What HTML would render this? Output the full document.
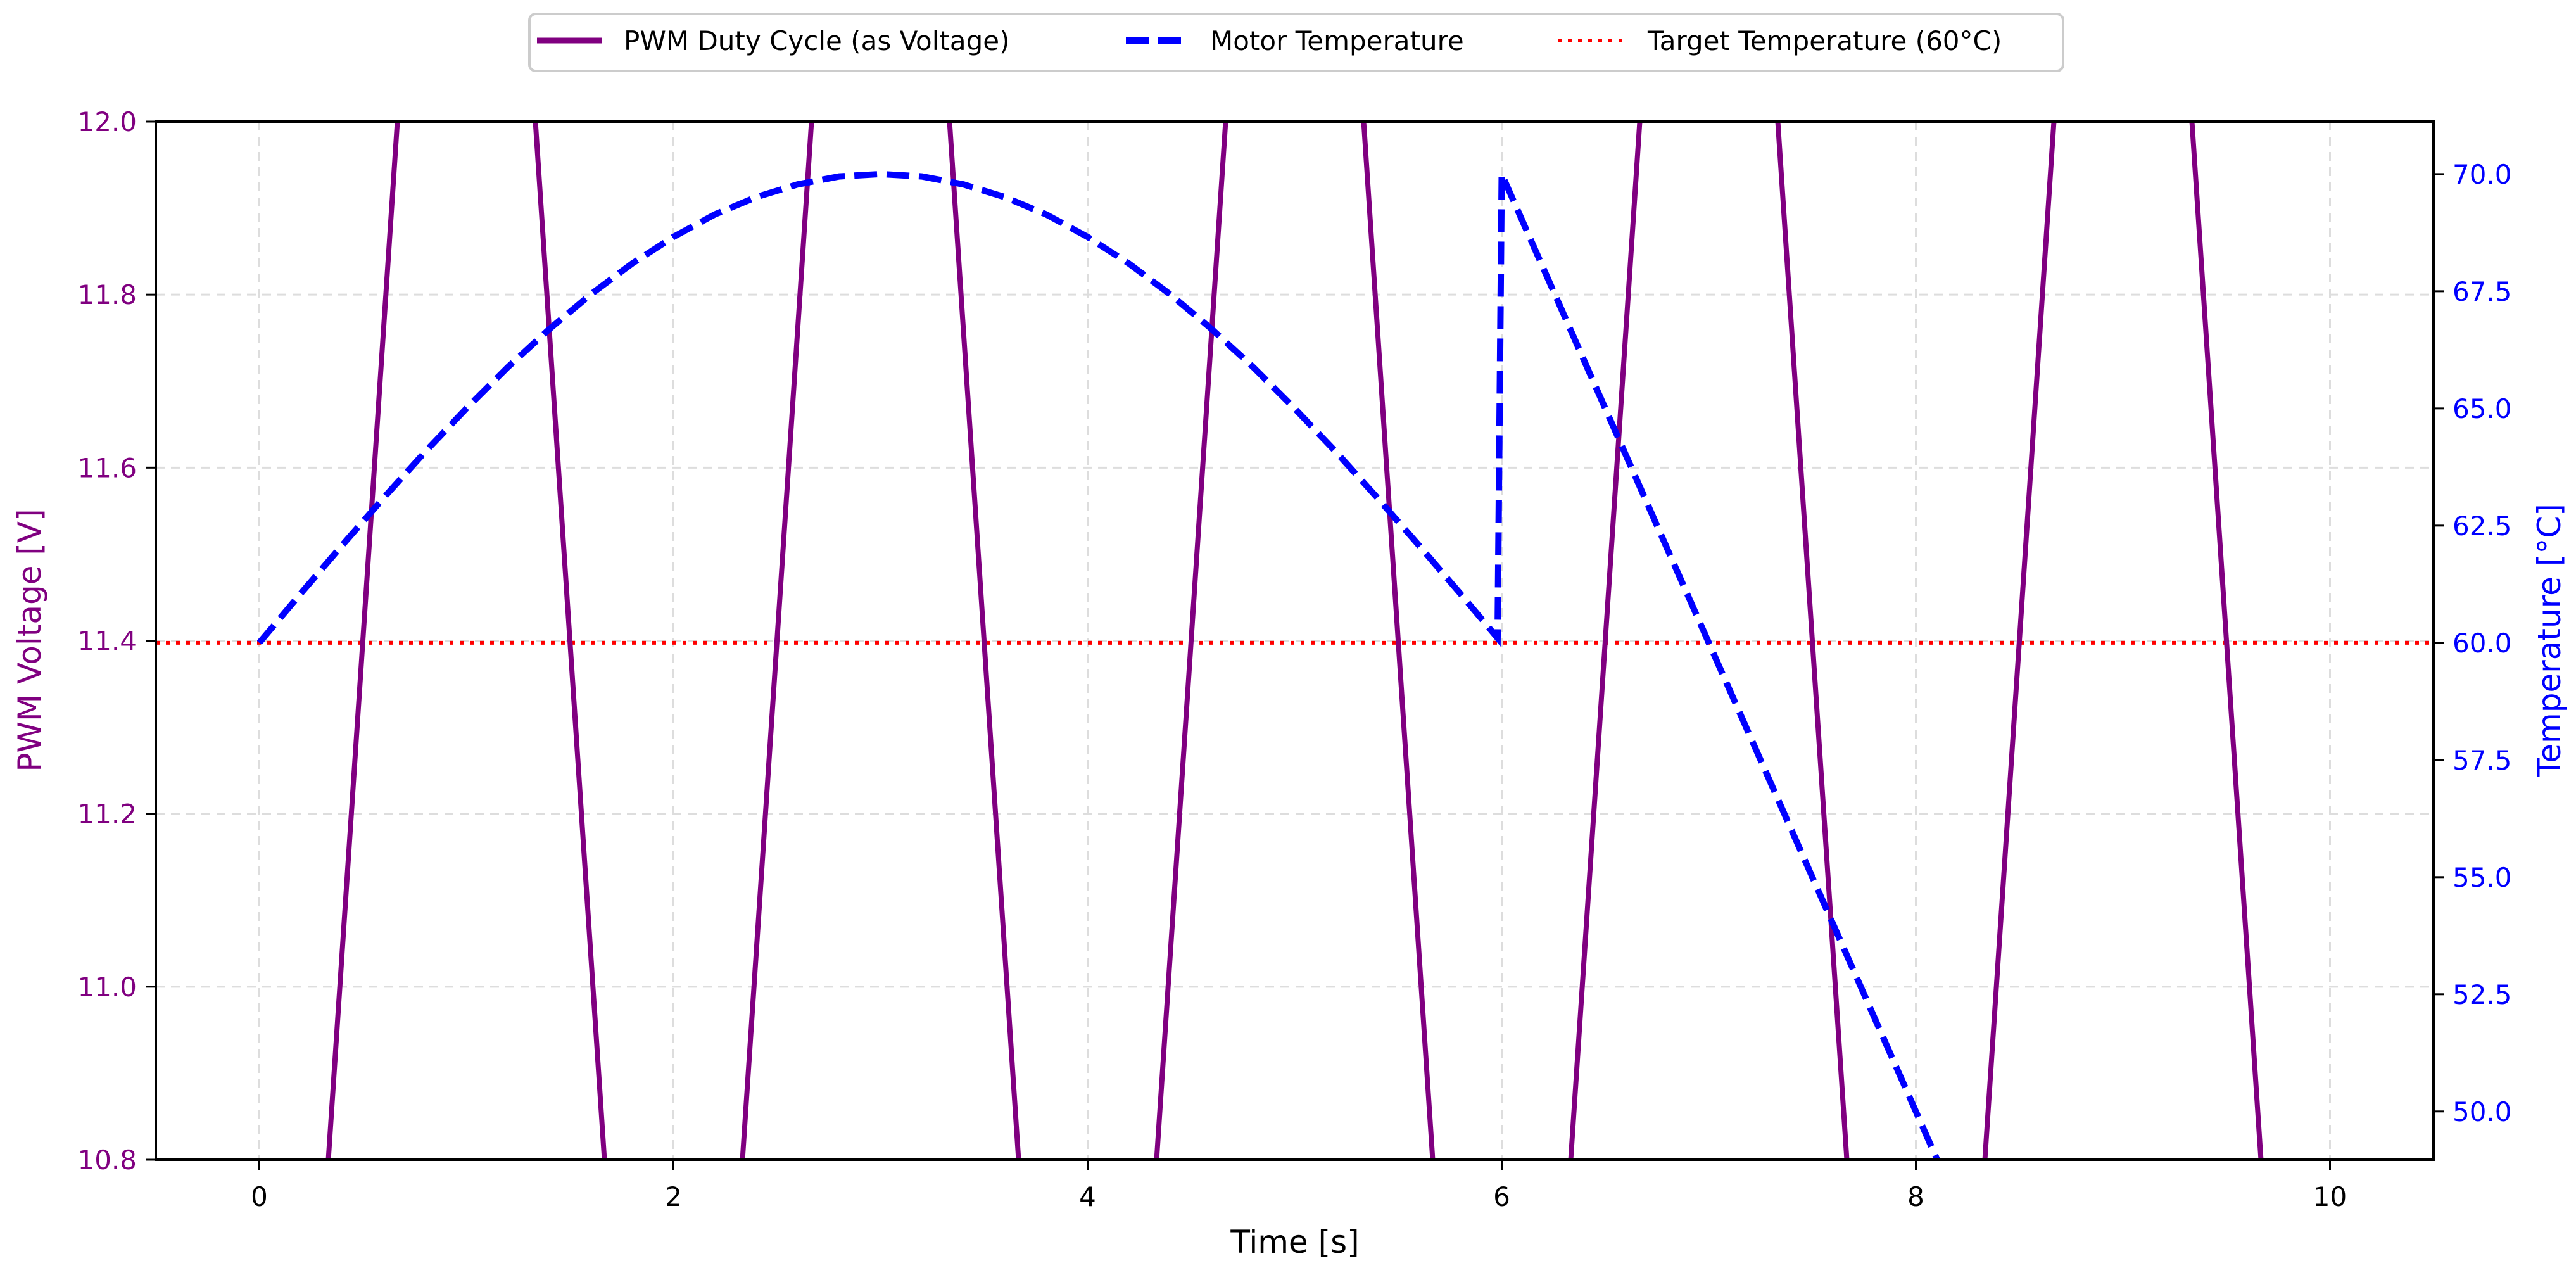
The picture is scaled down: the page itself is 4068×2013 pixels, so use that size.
<!DOCTYPE html>
<html><head><meta charset="utf-8">
<style>
html,body{margin:0;padding:0;background:#fff;width:4068px;height:2013px;overflow:hidden;}
svg{display:block;font-family:"DejaVu Sans","Liberation Sans",sans-serif;}
</style></head>
<body>
<svg id="chart" width="4068" height="2013" viewBox="0 0 4068 2013" xmlns="http://www.w3.org/2000/svg">
<defs><clipPath id="plotclip"><rect x="246" y="192" width="3597" height="1639"/></clipPath></defs>
<rect x="0" y="0" width="4068" height="2013" fill="#fff"/>
<g id="grid"></g>
<g id="series" clip-path="url(#plotclip)"></g>
<rect x="246" y="192" width="3597" height="1639" fill="none" stroke="#000" stroke-width="4"/>
<g id="axes"></g>
<text x="47" y="1011" transform="rotate(-90 47 1011)" text-anchor="middle" dominant-baseline="central" font-size="50" fill="#800080">PWM Voltage [V]</text>
<text x="4026" y="1011" transform="rotate(-90 4026 1011)" text-anchor="middle" dominant-baseline="central" font-size="50" fill="#0000ff">Temperature [°C]</text>
<text x="2045" y="1978" text-anchor="middle" font-size="50" fill="#000">Time [s]</text>
<g>
<rect x="836" y="22" width="2422" height="90" rx="10" fill="#fff" stroke="#ccc" stroke-width="4"/>
<g>
<line x1="848" y1="64" x2="950" y2="64" stroke="#800080" stroke-width="9"/>
<text x="985" y="79" font-size="42" fill="#000">PWM Duty Cycle (as Voltage)</text></g>
<g>
<line x1="1778" y1="64" x2="1866" y2="64" stroke="#0000ff" stroke-width="10" stroke-dasharray="36,15"/>
<text x="1911" y="79" font-size="42" fill="#000">Motor Temperature</text></g>
<g>
<line x1="2460" y1="64" x2="2562" y2="64" stroke="#ff0000" stroke-width="6" stroke-dasharray="6,10"/>
<text x="2602" y="79" font-size="42" fill="#000">Target Temperature (60°C)</text></g>
</g>
</svg>
<script>
const timePwm = [0,1,2,3,4,5,6,7,8,9,10];
const pwmVolts = [9.6,13.2,9.6,13.2,9.6,13.2,9.6,13.2,9.6,13.2,9.6];
const timeTemp = [0,0.2,0.4,0.6,0.8,1.0,1.2,1.4,1.6,1.8,2.0,2.2,2.4,2.6,2.8,3.0,3.2,3.4,3.6,3.8,4.0,4.2,4.4,4.6,4.8,5.0,5.2,5.4,5.6,5.8,5.98,6.0,7,8,9,10];
const tempC = [60,61.05,62.08,63.09,64.07,65,65.88,66.69,67.43,68.09,68.66,69.14,69.51,69.78,69.95,70,69.95,69.78,69.51,69.14,68.66,68.09,67.43,66.69,65.88,65,64.07,63.09,62.08,61.05,60.1,70,60,50,40,30];
const targetTemp = [60];
const xTicks = [0,2,4,6,8,10];
const leftTicks = ["10.8","11.0","11.2","11.4","11.6","11.8","12.0"];
const rightTicks = ["50.0","52.5","55.0","57.5","60.0","62.5","65.0","67.5","70.0"];

const L=246,R=3843,T=192,B=1831;
const xMin=-0.5,xMax=10.5, vMin=10.8,vMax=12.0, tMin=48.97,tMax=71.12;
const X=v=>L+(v-xMin)/(xMax-xMin)*(R-L);
const YV=v=>B-(v-vMin)/(vMax-vMin)*(B-T);
const YT=v=>B-(v-tMin)/(tMax-tMin)*(B-T);
const NS="http://www.w3.org/2000/svg";
function mk(tag,attrs,parent,txt){const e=document.createElementNS(NS,tag);for(const k in attrs)e.setAttribute(k,attrs[k]);if(txt!==undefined)e.textContent=txt;parent.appendChild(e);return e;}
const grid=document.getElementById('grid'),axes=document.getElementById('axes'),series=document.getElementById('series');

xTicks.forEach(t=>{
  const g=mk('line',{x1:X(t),x2:X(t),y1:T,y2:B,stroke:'#ddd','stroke-width':3,'stroke-dasharray':'14,10'},grid);
  
  
  const tk=mk('line',{x1:X(t),x2:X(t),y1:B,y2:B+16,stroke:'#000','stroke-width':3},axes);
  
  
  const lb=mk('text',{x:X(t),y:B+73,'text-anchor':'middle','font-size':42,fill:'#000'},axes,String(t));
  
  
});
leftTicks.forEach(s=>{
  const v=parseFloat(s);
  if(v>vMin+1e-9&&v<vMax-1e-9){
    const g=mk('line',{x1:L,x2:R,y1:YV(v),y2:YV(v),stroke:'#ddd','stroke-width':3,'stroke-dasharray':'14,10'},grid);
    
    
  }
  const tk=mk('line',{x1:L-16,x2:L,y1:YV(v),y2:YV(v),stroke:'#000','stroke-width':3},axes);
  
  
  const lb=mk('text',{x:L-30,y:YV(v)+15,'text-anchor':'end','font-size':42,fill:'#800080'},axes,s);
  
  
});
rightTicks.forEach(s=>{
  const v=parseFloat(s);
  const tk=mk('line',{x1:R,x2:R+16,y1:YT(v),y2:YT(v),stroke:'#000','stroke-width':3},axes);
  
  
  const lb=mk('text',{x:R+30,y:YT(v)+15,'text-anchor':'start','font-size':42,fill:'#0000ff'},axes,s);
  
  
});

const tl=mk('line',{x1:L,x2:R,y1:YT(targetTemp[0]),y2:YT(targetTemp[0]),stroke:'#ff0000','stroke-width':6,'stroke-dasharray':'6,10'},series);



const pp=mk('polyline',{points:timePwm.map((t,i)=>X(t)+','+YV(pwmVolts[i])).join(' '),fill:'none',stroke:'#800080','stroke-width':8,'stroke-linejoin':'round'},series);



const tp=mk('polyline',{points:timeTemp.map((t,i)=>X(t)+','+YT(tempC[i])).join(' '),fill:'none',stroke:'#0000ff','stroke-width':10,'stroke-dasharray':'36,15'},series);


</script>
</body></html>
